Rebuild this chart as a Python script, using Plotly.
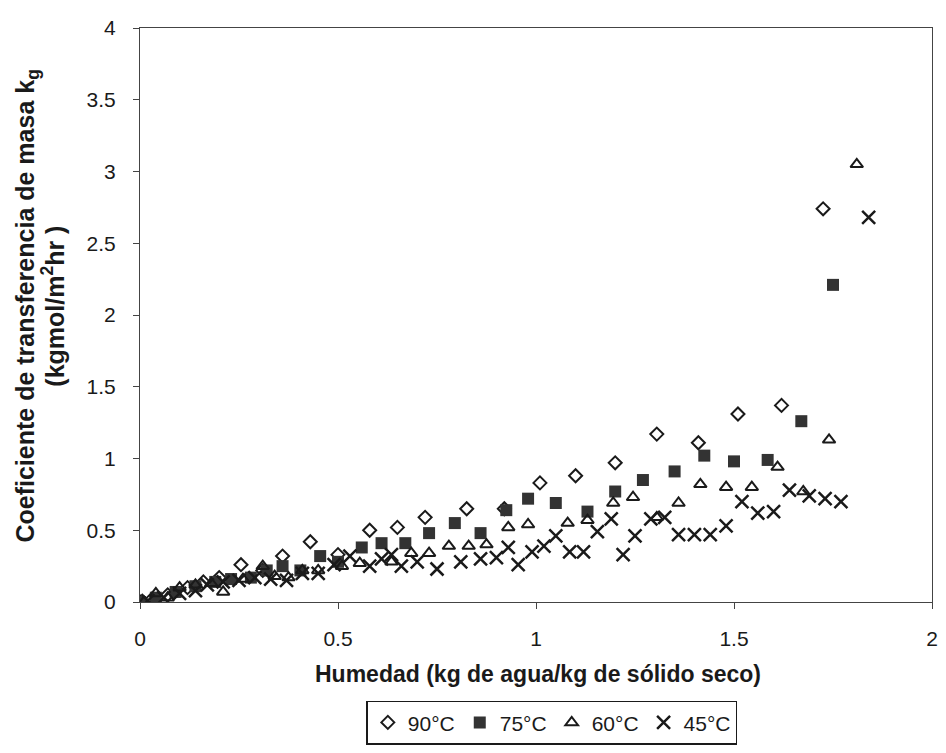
import plotly.graph_objects as go

# 90°C
x90 = [0.0, 0.03, 0.07, 0.12, 0.16, 0.20, 0.255, 0.31, 0.36, 0.43, 0.50, 0.58, 0.65, 0.72, 0.825, 0.92, 1.01, 1.10, 1.20, 1.305, 1.41, 1.51, 1.62, 1.725]
y90 = [0.0, 0.02, 0.05, 0.10, 0.14, 0.17, 0.26, 0.22, 0.32, 0.42, 0.33, 0.50, 0.52, 0.59, 0.65, 0.65, 0.83, 0.88, 0.97, 1.17, 1.11, 1.31, 1.37, 2.74]
# 75°C
x75 = [0.0, 0.04, 0.09, 0.14, 0.19, 0.23, 0.28, 0.32, 0.36, 0.405, 0.455, 0.50, 0.56, 0.61, 0.67, 0.73, 0.795, 0.86, 0.925, 0.98, 1.05, 1.13, 1.20, 1.27, 1.35, 1.425, 1.50, 1.585, 1.67, 1.75]
y75 = [0.0, 0.03, 0.07, 0.11, 0.14, 0.16, 0.17, 0.22, 0.25, 0.22, 0.32, 0.28, 0.38, 0.41, 0.41, 0.48, 0.55, 0.48, 0.64, 0.72, 0.69, 0.63, 0.77, 0.85, 0.91, 1.02, 0.98, 0.99, 1.26, 2.21]
# 60°C
x60 = [0.01, 0.04, 0.07, 0.10, 0.14, 0.18, 0.21, 0.26, 0.31, 0.34, 0.375, 0.41, 0.45, 0.51, 0.555, 0.635, 0.685, 0.73, 0.78, 0.83, 0.875, 0.93, 0.98, 1.08, 1.13, 1.195, 1.245, 1.305, 1.36, 1.415, 1.48, 1.545, 1.61, 1.675, 1.74, 1.81]
y60 = [0.0, 0.06, 0.03, 0.10, 0.12, 0.13, 0.07, 0.16, 0.25, 0.18, 0.17, 0.22, 0.22, 0.25, 0.27, 0.28, 0.34, 0.34, 0.39, 0.39, 0.40, 0.52, 0.54, 0.55, 0.57, 0.69, 0.73, 0.59, 0.69, 0.82, 0.80, 0.80, 0.94, 0.77, 1.13, 3.05]
# 45°C
x45 = [0.02, 0.06, 0.10, 0.14, 0.17, 0.21, 0.25, 0.29, 0.33, 0.37, 0.41, 0.45, 0.49, 0.53, 0.58, 0.61, 0.635, 0.66, 0.70, 0.75, 0.81, 0.86, 0.90, 0.93, 0.955, 0.99, 1.02, 1.05, 1.085, 1.12, 1.155, 1.19, 1.22, 1.25, 1.29, 1.325, 1.36, 1.40, 1.44, 1.48, 1.52, 1.56, 1.60, 1.64, 1.69, 1.73, 1.77, 1.84]
y45 = [0.01, 0.03, 0.06, 0.08, 0.12, 0.14, 0.15, 0.17, 0.16, 0.15, 0.20, 0.20, 0.26, 0.32, 0.25, 0.30, 0.33, 0.25, 0.28, 0.23, 0.28, 0.30, 0.31, 0.38, 0.26, 0.35, 0.39, 0.46, 0.35, 0.35, 0.49, 0.58, 0.33, 0.46, 0.58, 0.59, 0.47, 0.47, 0.47, 0.53, 0.70, 0.62, 0.63, 0.78, 0.74, 0.72, 0.70, 2.68]

x_ticks = [0, 0.5, 1, 1.5, 2]
x_labels = ["0", "0.5", "1", "1.5", "2"]
y_ticks = [0, 0.5, 1, 1.5, 2, 2.5, 3, 3.5, 4]
y_labels = ["0", "0.5", "1", "1.5", "2", "2.5", "3", "3.5", "4"]

FONT = "Liberation Sans, Arial, sans-serif"
INK = "#1a1a1a"

fig = go.Figure()
fig.add_trace(go.Scatter(x=x90, y=y90, mode="markers", name="90°C",
                         marker=dict(symbol="diamond-open", size=10, color=INK, line=dict(width=2, color=INK))))
fig.add_trace(go.Scatter(x=x75, y=y75, mode="markers", name="75°C",
                         marker=dict(symbol="square", size=12, color="#333333", line=dict(width=0))))
fig.add_trace(go.Scatter(x=x60, y=y60, mode="markers", name="60°C",
                         marker=dict(symbol="triangle-up-open", size=11, color=INK, line=dict(width=2, color=INK))))
fig.add_trace(go.Scatter(x=x45, y=y45, mode="markers", name="45°C",
                         marker=dict(symbol="x-thin", size=13, color=INK, line=dict(width=2.5, color=INK))))

# the page body adds an 8px offset, so the figure is 8px smaller than the window
fig.update_layout(
    width=938, height=745,
    margin=dict(l=132, r=8, t=16, b=149),
    paper_bgcolor="white", plot_bgcolor="white",
    font=dict(family=FONT, color=INK, size=21),
    showlegend=True,
    legend=dict(orientation="h", x=0.52, xanchor="center", y=-0.172, yanchor="top",
                bordercolor=INK, borderwidth=1.5, font=dict(size=21, family=FONT, color=INK),
                itemwidth=30, tracegroupgap=0, itemsizing="trace"),
    xaxis=dict(range=[0, 2], tickvals=x_ticks, ticktext=x_labels, tickfont=dict(size=21),
               showgrid=False, zeroline=False, showline=True, linecolor="#444", linewidth=1.2,
               mirror=True, ticks="outside", ticklen=6, tickcolor="#444", ticklabelstandoff=12),
    yaxis=dict(range=[0, 4], tickvals=y_ticks, ticktext=y_labels, tickfont=dict(size=21),
               showgrid=False, zeroline=False, showline=True, linecolor="#444", linewidth=1.2,
               mirror=True, ticks="outside", ticklen=6, tickcolor="#444", ticklabelstandoff=13),
    annotations=[
        dict(text="<b>Humedad (kg de agua/kg de sólido seco)</b>", xref="paper", yref="paper",
             x=0.503, y=-0.126, xanchor="center", yanchor="middle", showarrow=False,
             font=dict(size=23, family=FONT, color=INK)),
        dict(text="<b>Coeficiente de transferencia de masa k<sub>g</sub></b>", xref="paper", yref="paper",
             x=-0.143, y=0.516, xanchor="center", yanchor="middle", textangle=-90, showarrow=False,
             font=dict(size=25, family=FONT, color=INK)),
        dict(text="<b>(kgmol/m<sup>2</sup>hr )</b>", xref="paper", yref="paper",
             x=-0.110, y=0.516, xanchor="center", yanchor="middle", textangle=-90, showarrow=False,
             font=dict(size=25, family=FONT, color=INK)),
    ],
)

fig.write_html("out.html")
